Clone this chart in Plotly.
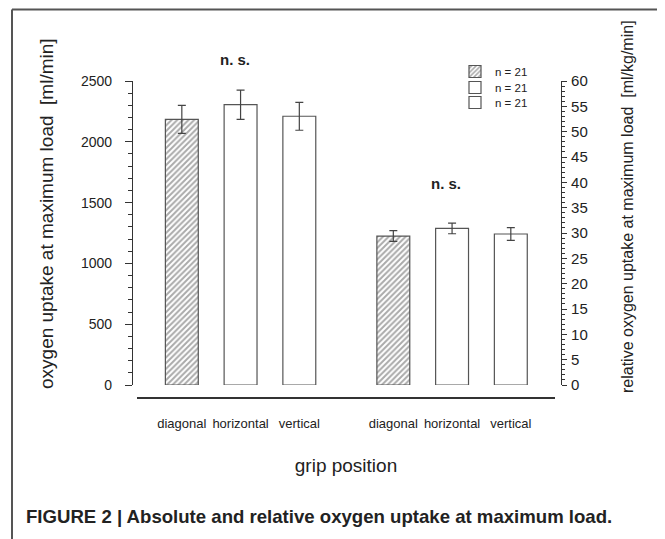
import plotly.graph_objects as go

# ---------------- data ----------------
categories = ["diagonal", "horizontal", "vertical"]
abs_mean = [2185, 2305, 2210]      # ml/min
abs_err = [115, 120, 115]
rel_mean = [29.4, 30.9, 29.8]      # ml/kg/min
rel_err = [1.05, 1.05, 1.25]
n_subjects = [21, 21, 21]
significance = ["n. s.", "n. s."]
left_title = "oxygen uptake at maximum load\u00a0 [ml/min]"
right_title = "relative oxygen uptake at maximum load\u00a0 [ml/kg/min]"
x_title = "grip position"
caption = "FIGURE 2 | Absolute and relative oxygen uptake at maximum load."

# ---------------- layout helpers ----------------
OFF = 8                      # page body margin
W, H = 665 - OFF, 539 - OFF
ML = 132 - OFF
MR = W - (561 - OFF)
MT = 81 - OFF
MB = H - (398 - OFF)
PW = W - ML - MR
PH = H - MT - MB


def px_x(p):
    """screen pixel x -> paper fraction"""
    return (p - OFF - ML) / PW


def px_y(p):
    """screen pixel y -> paper fraction"""
    return (H - MB - (p - OFF)) / PH


group_gap = 3.6
patterns = ["/", "", ""]
bar_w = 0.56
font_family = "Arial, Liberation Sans, sans-serif"
legend_ids = ["legend", "legend2", "legend3"]
legend_rows = [71, 87, 102]

fig = go.Figure()
for g, (means, errs, yax) in enumerate([(abs_mean, abs_err, "y"), (rel_mean, rel_err, "y2")]):
    for i, cat in enumerate(categories):
        fig.add_trace(go.Bar(
            x=[i + g * group_gap], y=[means[i]],
            error_y=dict(type="data", array=[errs[i]], color="#444", thickness=1.2, width=4),
            width=bar_w, yaxis=yax,
            name=f"n = {n_subjects[i]}",
            legend=legend_ids[i], showlegend=(g == 0),
            marker=dict(color="white", line=dict(color="#555", width=1.2),
                        pattern=dict(shape=patterns[i], fgcolor="#555", bgcolor="white",
                                     size=4, solidity=0.5)),
        ))

tickvals = [i + g * group_gap for g in range(2) for i in range(len(categories))]
ticktext = categories * 2

axis_col = "#333"
legend_common = dict(xanchor="left", yanchor="top", font=dict(size=11.5, color="#222"),
                     bgcolor="rgba(0,0,0,0)", borderwidth=0)
legends = {lid: dict(x=px_x(455), y=px_y(legend_rows[k] - 14), **legend_common)
           for k, lid in enumerate(legend_ids)}

fig.update_layout(
    width=W, height=H,
    margin=dict(l=ML, r=MR, t=MT, b=MB, autoexpand=False),
    paper_bgcolor="white", plot_bgcolor="white",
    font=dict(family=font_family, color="#222"),
    barmode="overlay",
    showlegend=True,
    xaxis=dict(domain=[px_x(137), px_x(555)], anchor="free", position=0,
               range=[-0.763, 6.352], showline=True, linecolor=axis_col, linewidth=1.5,
               tickvals=tickvals, ticktext=ticktext, ticks="", ticklabelstandoff=14,
               tickfont=dict(size=13, color="#222"), showgrid=False, zeroline=False,
               title=dict(text=x_title, font=dict(size=19, color="#222"), standoff=27)),
    yaxis=dict(domain=[px_y(385), 1], anchor="free", position=0, range=[0, 2500],
               dtick=500, ticks="outside", ticklen=7, tickcolor=axis_col, tickwidth=1.2,
               showline=True, linecolor=axis_col, linewidth=1.2,
               minor=dict(dtick=100, ticklen=4, ticks="outside", tickcolor=axis_col, tickwidth=1),
               tickfont=dict(size=14, color="#222"), ticklabelstandoff=10,
               showgrid=False, zeroline=False),
    yaxis2=dict(domain=[px_y(385), 1], overlaying="y", side="right", anchor="free", position=1,
                range=[0, 60], dtick=5, ticks="outside", ticklen=5, tickcolor=axis_col, tickwidth=1.2,
                showline=True, linecolor=axis_col, linewidth=1.2,
                minor=dict(dtick=1, ticklen=3, ticks="outside", tickcolor=axis_col, tickwidth=1),
                tickfont=dict(size=15, color="#222"), ticklabelstandoff=1,
                showgrid=False, zeroline=False),
    **legends,
)

annotations = [
    dict(text=f"<b>{significance[0]}</b>", x=1 - 0.1, xref="x", y=px_y(60), yref="paper",
         xanchor="center", yanchor="middle", showarrow=False, font=dict(size=15, color="#222")),
    dict(text=f"<b>{significance[1]}</b>", x=1 + group_gap - 0.1, xref="x", y=px_y(183), yref="paper",
         xanchor="center", yanchor="middle", showarrow=False, font=dict(size=15, color="#222")),
    dict(text=left_title, x=px_x(47), y=px_y(214), xref="paper", yref="paper", textangle=-90,
         xanchor="center", yanchor="middle", showarrow=False, font=dict(size=19, color="#222")),
    dict(text=right_title, x=px_x(627), y=px_y(207), xref="paper", yref="paper", textangle=-90,
         xanchor="center", yanchor="middle", showarrow=False, font=dict(size=16, color="#222")),
    dict(text=f"<b>{caption}</b>", x=px_x(24), y=px_y(517), xref="paper", yref="paper",
         xanchor="left", yanchor="middle", showarrow=False, font=dict(size=18.6, color="#222")),
]
fig.update_layout(annotations=annotations)

frame_col = "#555"
fig.update_layout(shapes=[
    dict(type="line", xref="paper", yref="paper", x0=px_x(12), x1=px_x(666), y0=px_y(9.5), y1=px_y(9.5),
         line=dict(color=frame_col, width=2)),
    dict(type="line", xref="paper", yref="paper", x0=px_x(12), x1=px_x(12), y0=px_y(9.5), y1=px_y(540),
         line=dict(color=frame_col, width=2)),
])

fig.write_html("out.html")
